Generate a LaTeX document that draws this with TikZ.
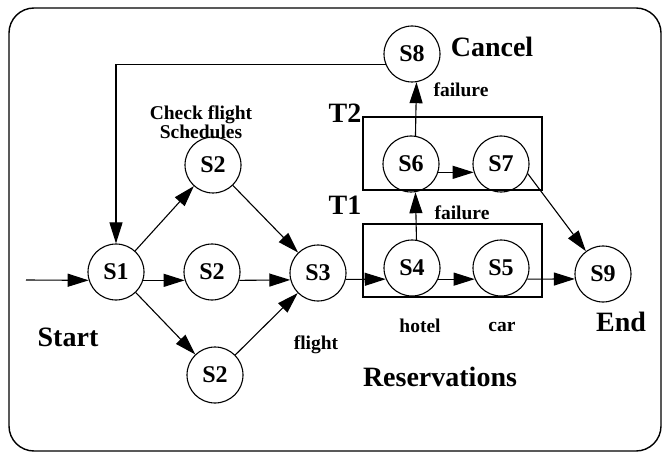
\documentclass[tikz,border=0pt]{standalone}
\usepackage{fontspec}
\setmainfont{Liberation Serif}
\usetikzlibrary{arrows.meta}
\begin{document}
\begin{tikzpicture}[x=1pt,y=-1pt,
    >={Triangle[length=21pt,width=13pt]},
    line width=1.1pt,
    lbl/.style={font=\fontsize{19.5}{17}\selectfont\bfseries, inner sep=0pt},
    big/.style={font=\fontsize{28}{28}\selectfont\bfseries, inner sep=0pt},
  ]
  \useasboundingbox (0,0) rectangle (663,454);
  \draw[line width=1.4pt, rounded corners=25pt] (9,8) rectangle (661,451);

  % transactions
  \draw (363,117) rectangle (542,190);
  \draw (363,224) rectangle (542,297);

  \begin{scope}[
      every node/.style={circle, draw, minimum size=56pt, inner sep=0pt,
        font=\fontsize{24}{24}\selectfont\bfseries},
    ]
    \node (s1) at (116,272) {S1};
    \node (s2a) at (213,165) {S2};
    \node (s2b) at (212,272) {S2};
    \node (s2c) at (215,375) {S2};
    \node (s3) at (318,273) {S3};
    \node (s4) at (412,268) {S4};
    \node (s5) at (501,268) {S5};
    \node (s6) at (411,164) {S6};
    \node (s7) at (501,164) {S7};
    \node (s8) at (412,54) {S8};
    \node (s9) at (603,274) {S9};
  \end{scope}

  \coordinate (in) at (26,280);

  \path[->] (in) edge (s1.197);
  \path[->] (s1.-17) edge (s2b.197);
  \path[->] (s2b.-17) edge (s3.194);
  \path[->] (s3.-13) edge (s4.203);
  \path[->] (s4.-23) edge (s5.203);
  \path[->] (s5.-23) edge (s9.190);
  \path[->] (s6.-17) edge (s7.197);
  \path[->] (s1) edge (s2a);
  \path[->] (s1) edge (s2c);
  \path[->] (s2a) edge (s3);
  \path[->] (s2c) edge (s3);
  \path[->] (s7.-20) edge (s9);
  \path[->] (s4.81) edge (s6.279);
  \path[->] (s6.81) edge (s8.279);
  \draw[->] (s8.202) -| (s1.north);

  \node[big] (cancel) at (492,47) {Cancel};
  \node[lbl] (fail2) at (461,90) {failure};
  \node[big] (t2) at (345,113) {T2};
  \node[big] (t1) at (345,205) {T1};
  \node[lbl] (fail1) at (462,213) {failure};
  \node[lbl] (hotel) at (420,326) {hotel};
  \node[lbl] (car) at (502,327) {car};
  \node[big] (end) at (621,322) {End};
  \node[big] (resv) at (440,377) {Reservations};
  \node[big] (start) at (68,337) {Start};
  \node[lbl] (flight) at (316,345) {flight};
  \node[lbl, align=center] (check) at (201,122) {Check flight\\Schedules};
\end{tikzpicture}
\end{document}
